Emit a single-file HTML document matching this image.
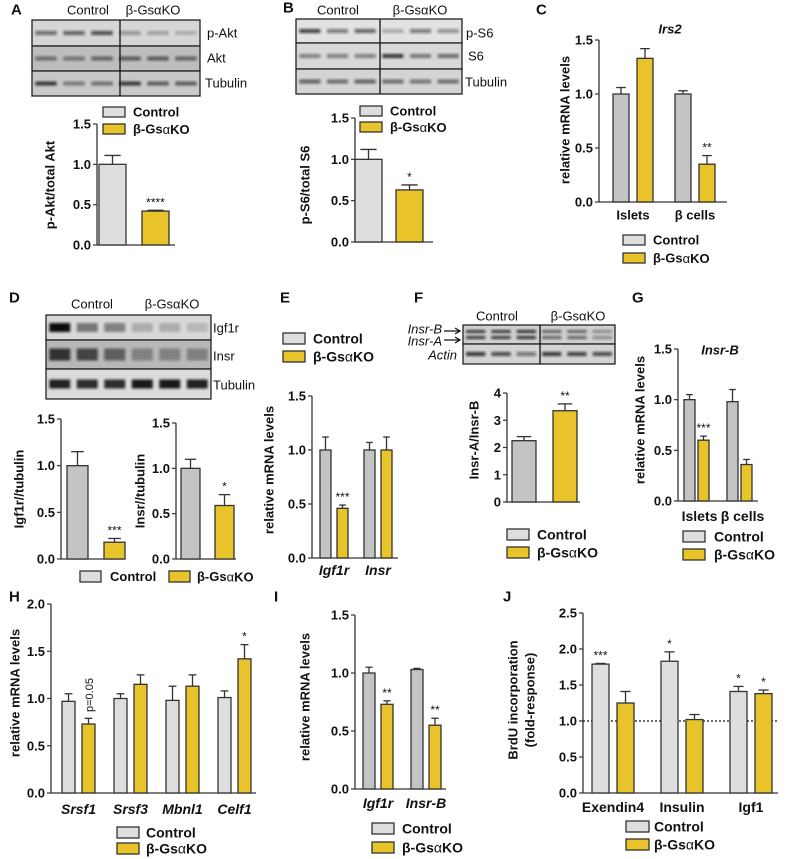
<!DOCTYPE html>
<html><head><meta charset="utf-8"><style>
html,body{margin:0;padding:0;background:#fff}
svg{display:block;font-family:"Liberation Sans",Arial,sans-serif}
</style></head><body>
<svg id="fig" width="789" height="859" viewBox="0 0 789 859" xmlns="http://www.w3.org/2000/svg">
<defs>
<filter id="bl" x="-20%" y="-50%" width="140%" height="200%"><feGaussianBlur stdDeviation="1.3"/></filter>
</defs>
</svg>
<script>
// ---- data arrays ----
const aCats=['Control','KO']; const aCtrl=[1.0]; const aCtrlErr=[0.11]; const aKO=[0.42]; const aKOErr=[0.01]; const aSig=['****']; const aTicks=[0,0.5,1.0,1.5]; const aTickLabels=['0.0','0.5','1.0','1.5'];
const bCtrl=[1.0]; const bCtrlErr=[0.12]; const bKO=[0.63]; const bKOErr=[0.06]; const bSig=['*']; const bTicks=[0,0.5,1.0,1.5]; const bTickLabels=['0.0','0.5','1.0','1.5'];
const cCats=['Islets','β cells']; const cCtrl=[1.0,1.0]; const cCtrlErr=[0.06,0.03]; const cKO=[1.33,0.35]; const cKOErr=[0.09,0.08]; const cSig=['','**']; const cTicks=[0,0.5,1.0,1.5]; const cTickLabels=['0.0','0.5','1.0','1.5'];
const d1Ctrl=[1.0]; const d1CtrlErr=[0.15]; const d1KO=[0.18]; const d1KOErr=[0.04]; const d1Sig=['***']; const d1Ticks=[0,0.5,1.0,1.5]; const d1TickLabels=['0.0','0.5','1.0','1.5'];
const d2Ctrl=[1.0]; const d2CtrlErr=[0.1]; const d2KO=[0.59]; const d2KOErr=[0.12]; const d2Sig=['*']; const d2Ticks=[0,0.5,1.0,1.5]; const d2TickLabels=['0.0','0.5','1.0','1.5'];
const eCats=['Igf1r','Insr']; const eCtrl=[1.0,1.0]; const eCtrlErr=[0.12,0.07]; const eKO=[0.46,1.0]; const eKOErr=[0.03,0.12]; const eSig=['***','']; const eTicks=[0,0.5,1.0,1.5]; const eTickLabels=['0.0','0.5','1.0','1.5'];
const fCtrl=[2.25]; const fCtrlErr=[0.15]; const fKO=[3.35]; const fKOErr=[0.25]; const fSig=['**']; const fTicks=[0,1,2,3,4]; const fTickLabels=['0','1','2','3','4'];
const gCats=['Islets','β cells']; const gCtrl=[1.0,0.98]; const gCtrlErr=[0.05,0.12]; const gKO=[0.6,0.36]; const gKOErr=[0.04,0.05]; const gSig=['***','']; const gTicks=[0,0.5,1.0,1.5]; const gTickLabels=['0.0','0.5','1.0','1.5'];
const hCats=['Srsf1','Srsf3','Mbnl1','Celf1']; const hCtrl=[0.97,1.0,0.98,1.01]; const hCtrlErr=[0.08,0.05,0.15,0.07]; const hKO=[0.73,1.15,1.13,1.42]; const hKOErr=[0.06,0.1,0.12,0.15]; const hSig=['','','','*']; const hTicks=[0,0.5,1.0,1.5,2.0]; const hTickLabels=['0.0','0.5','1.0','1.5','2.0'];
const iCats=['Igf1r','Insr-B']; const iCtrl=[1.0,1.03]; const iCtrlErr=[0.05,0.01]; const iKO=[0.73,0.55]; const iKOErr=[0.03,0.06]; const iSig=['**','**']; const iTicks=[0,0.5,1.0,1.5]; const iTickLabels=['0.0','0.5','1.0','1.5'];
const jCats=['Exendin4','Insulin','Igf1']; const jCtrl=[1.79,1.83,1.41]; const jCtrlErr=[0.01,0.13,0.07]; const jKO=[1.25,1.02,1.38]; const jKOErr=[0.16,0.07,0.05]; const jSigCtrl=['***','*','*']; const jSigKO=['','','*']; const jTicks=[0,0.5,1.0,1.5,2.0,2.5]; const jTickLabels=['0.0','0.5','1.0','1.5','2.0','2.5']; const jRef=[1.0];

const NS='http://www.w3.org/2000/svg';
const svg=document.getElementById('fig');
function mk(tag,attrs,parent,txt){const e=document.createElementNS(NS,tag);for(const k in attrs)e.setAttribute(k,attrs[k]);if(txt!==undefined)e.textContent=txt;(parent||svg).appendChild(e);return e;}
const YEL='#e8c42a', LG='#dedede', DG='#c4c4c4', ST='#333';

function txt(x,y,s,opt,parent,name){opt=opt||{};const t=mk('text',{x:x,y:y,'font-size':opt.size||12,'font-weight':opt.w||'bold','text-anchor':opt.a||'start','dominant-baseline':'central',fill:opt.fill||'#111','font-style':opt.it?'italic':'normal'},parent,s);if(opt.rot!==undefined)t.setAttribute('transform','rotate('+opt.rot+' '+x+' '+y+')');


return t;}

function chart(c){
  const g=mk('g',{});
  
  
  const maxV=c.ticks[c.ticks.length-1];
  const y=v=>c.y0-(v/maxV)*(c.y0-c.yTop);
  const ya=mk('line',{x1:c.x0,y1:c.yTop,x2:c.x0,y2:c.y0,stroke:ST,'stroke-width':1.3},g);
  
  
  const xa=mk('line',{x1:c.x0,y1:c.y0,x2:c.xEnd,y2:c.y0,stroke:ST,'stroke-width':1.3},g);
  
  
  c.ticks.forEach((t,i)=>{
    const tk=mk('line',{x1:c.x0-4,y1:y(t),x2:c.x0,y2:y(t),stroke:ST,'stroke-width':1.2},g);
    
    
    txt(c.x0-6,y(t),c.tickLabels[i],{a:'end',size:c.fs||13},g,'y-tick-label');
  });
  if(c.ref){c.ref.forEach(r=>{const l=mk('line',{x1:c.x0,y1:y(r),x2:c.xEnd,y2:y(r),stroke:'#111','stroke-width':1.3,'stroke-dasharray':'2,2'},g);
    
    });}
  const series=[[c.ctrl,c.ctrlErr,c.ctrlFill,0,'control'],[c.ko,c.koErr,YEL,c.off,'ko']];
  c.ctrl.forEach((_,gi)=>{
    series.forEach(s=>{
      const v=s[0][gi], e=s[1][gi];
      const bx=c.x0+c.pad+gi*c.step+s[3];
      const cx=bx+c.bw/2;
      const el=mk('line',{x1:cx,y1:y(v),x2:cx,y2:y(v+e),stroke:ST,'stroke-width':1.3},g);
      
      
      const cap=mk('line',{x1:cx-c.bw*0.3,y1:y(v+e),x2:cx+c.bw*0.3,y2:y(v+e),stroke:ST,'stroke-width':1.3},g);
      
      
      const r=mk('rect',{x:bx,y:y(v),width:c.bw,height:c.y0-y(v),fill:s[2],stroke:ST,'stroke-width':1.3},g);
      
      
    });
    if(c.sig&&c.sig[gi]){const cx=c.x0+c.pad+gi*c.step+c.off+c.bw/2;txt(cx,y(c.ko[gi]+c.koErr[gi])-8,c.sig[gi],{a:'middle',w:'normal',size:12},g,'significance');}
    if(c.sigC&&c.sigC[gi]){const cx=c.x0+c.pad+gi*c.step+c.bw/2;txt(cx,y(c.ctrl[gi]+c.ctrlErr[gi])-8,c.sigC[gi],{a:'middle',w:'normal',size:12},g,'significance');}
    if(c.cats){const cx=c.x0+c.pad+gi*c.step+(c.off+c.bw)/2;txt(cx+(c.catDx||0),c.catY,c.cats[gi],{a:'middle',size:c.catFs||14,it:c.catIt},g,'x-category-label');}
  });
  if(c.ytitle){ if(Array.isArray(c.ytitle)){c.ytitle.forEach((t,k)=>txt(c.ytX+k*17,c.ytY,t,{a:'middle',size:c.ytFs||14,rot:-90},g,'y-axis-title'));} else txt(c.ytX,c.ytY,c.ytitle,{a:'middle',size:c.ytFs||14,rot:-90},g,'y-axis-title');}
  return g;
}
function legend(x,y1,y2,w,h,ctrlFill,tx,fs,name,horiz){
  const g=mk('g',{});
  
  
  const r1=mk('rect',{x:x,y:y1,width:w,height:h,fill:ctrlFill,stroke:ST,'stroke-width':1.3},g);
  
  
  txt(tx,y1+h/2,'Control',{size:fs},g,'legend-entry-control');
  const r2=mk('rect',{x:horiz?horiz[0]:x,y:y2,width:w,height:h,fill:YEL,stroke:ST,'stroke-width':1.3},g);
  
  
  const t=txt(horiz?horiz[1]:tx,y2+h/2,'β-Gs',{size:fs},g,'legend-entry-ko');
  mk('tspan',{'font-weight':'normal'},t,'α');
  mk('tspan',{},t,'KO');
}
function blot(x,y,w,rows,divX,lanes,name){
  const g=mk('g',{});
  
  
  let yy=y;
  rows.forEach(r=>{
    mk('rect',{x:x,y:yy,width:w,height:r.h,fill:r.bg||'#cfcfcf'},g);
    r.bands.forEach((b,i)=>{
      const lx=x+(i+0.5)*w/lanes;
      const bh=r.bh||4;
      (r.offs||[0]).forEach(o=>mk('rect',{x:lx-w/lanes*0.38,y:yy+r.h/2-bh/2+o,width:w/lanes*0.76,height:bh,fill:'#111','fill-opacity':b,filter:'url(#bl)'},g));
    });
    mk('rect',{x:x,y:yy,width:w,height:r.h,fill:'none',stroke:'#222','stroke-width':1.3},g);
    yy+=r.h;
  });
  if(divX)mk('line',{x1:divX,y1:y,x2:divX,y2:yy,stroke:'#111','stroke-width':1.3},g);
  return g;
}
function panelLabel(x,y,s){txt(x,y,s,{size:15},null,'panel-label-'+s.toLowerCase());}

// ---------- Panel A ----------
panelLabel(11,10,'A');
txt(88,10,'Control',{w:'normal',a:'middle',size:13},null,'blot-header-control');
txt(153,10,'β-GsαKO',{w:'normal',a:'middle',size:13},null,'blot-header-ko');
blot(32,20,168,[{h:26,bands:[0.55,0.6,0.7,0.35,0.25,0.2],bg:'#d6d6d6'},{h:25,bands:[0.5,0.45,0.55,0.6,0.6,0.55],bg:'#bdbdbd'},{h:25,bands:[0.8,0.45,0.5,0.8,0.6,0.6],bg:'#c8c8c8'}],120,6,'blot-a');
txt(207,33,'p-Akt',{w:'normal',size:13},null,'blot-label');
txt(207,58,'Akt',{w:'normal',size:13},null,'blot-label');
txt(205,83,'Tubulin',{w:'normal',size:13},null,'blot-label');
legend(103,107,124,22,10,LG,133,13,'legend-a');
chart({name:'chart-a',x0:97,yTop:124,y0:245,xEnd:175,pad:2,step:0,bw:27,off:43,ctrl:aCtrl,ctrlErr:aCtrlErr,ko:aKO,koErr:aKOErr,sig:aSig,ticks:aTicks,tickLabels:aTickLabels,ctrlFill:LG,ytitle:'p-Akt/total Akt',ytX:50,ytY:185,ytFs:13});

// ---------- Panel B ----------
panelLabel(283,8,'B');
txt(338,10,'Control',{w:'normal',a:'middle',size:13},null,'blot-header-control');
txt(420,10,'β-GsαKO',{w:'normal',a:'middle',size:13},null,'blot-header-ko');
blot(296,19,166,[{h:24,bands:[0.75,0.5,0.6,0.25,0.5,0.4],bg:'#e2e2e2'},{h:26,bands:[0.45,0.45,0.45,0.8,0.5,0.55],bg:'#d8d8d8'},{h:25,bands:[0.6,0.55,0.6,0.55,0.5,0.55],bg:'#d4d4d4'}],380,6,'blot-b');
txt(466,33,'p-S6',{w:'normal',size:13},null,'blot-label');
txt(468,56,'S6',{w:'normal',size:13},null,'blot-label');
txt(465,82,'Tubulin',{w:'normal',size:13},null,'blot-label');
legend(360,106,122,22,10,LG,390,13,'legend-b');
chart({name:'chart-b',x0:355,yTop:118,y0:242,xEnd:433,pad:0,step:0,bw:27,off:41,ctrl:bCtrl,ctrlErr:bCtrlErr,ko:bKO,koErr:bKOErr,sig:bSig,ticks:bTicks,tickLabels:bTickLabels,ctrlFill:LG,ytitle:'p-S6/total S6',ytX:305,ytY:185,ytFs:13});

// ---------- Panel C ----------
panelLabel(536,10,'C');
txt(670,29,'Irs2',{a:'middle',size:13,it:true},null,'chart-title-c');
chart({name:'chart-c',x0:599,yTop:40,y0:202,xEnd:727,pad:14,step:62,bw:16,off:24,ctrl:cCtrl,ctrlErr:cCtrlErr,ko:cKO,koErr:cKOErr,sig:cSig,ticks:cTicks,tickLabels:cTickLabels,ctrlFill:DG,cats:cCats,catY:215,catFs:13,ytitle:'relative mRNA levels',ytX:565,ytY:120,ytFs:13});
legend(623,235,253,22,10,LG,653,13,'legend-c');

// ---------- Panel D ----------
panelLabel(9,298,'D');
txt(92,304,'Control',{w:'normal',a:'middle',size:13},null,'blot-header-control');
txt(172,304,'β-GsαKO',{w:'normal',a:'middle',size:13},null,'blot-header-ko');
blot(46,315,165,[{h:25,bands:[1,0.5,0.45,0.2,0.2,0.15],bg:'#d8d8d8',bh:9},{h:29,bands:[0.8,0.7,0.55,0.35,0.35,0.3],bg:'#b8b8b8',bh:12},{h:30,bands:[0.9,0.85,0.85,0.95,0.95,0.9],bg:'#dcdcdc',bh:9}],null,6,'blot-d');
txt(213,328,'Igf1r',{w:'normal',size:13},null,'blot-label');
txt(213,356,'Insr',{w:'normal',size:13},null,'blot-label');
txt(213,385,'Tubulin',{w:'normal',size:13},null,'blot-label');
chart({name:'chart-d-igf1r',x0:61,yTop:419,y0:559,xEnd:124,pad:6,step:0,bw:21,off:37,ctrl:d1Ctrl,ctrlErr:d1CtrlErr,ko:d1KO,koErr:d1KOErr,sig:d1Sig,ticks:d1Ticks,tickLabels:d1TickLabels,ctrlFill:DG,ytitle:'Igf1r//tubulin',ytX:19,ytY:489,ytFs:13});
chart({name:'chart-d-insr',x0:176,yTop:423,y0:559,xEnd:236,pad:5,step:0,bw:19,off:34,ctrl:d2Ctrl,ctrlErr:d2CtrlErr,ko:d2KO,koErr:d2KOErr,sig:d2Sig,ticks:d2Ticks,tickLabels:d2TickLabels,ctrlFill:DG,ytitle:'Insr//tubulin',ytX:140,ytY:491,ytFs:13});
legend(80,571,571,21,11,LG,110,13,'legend-d',[169,197]);

// ---------- Panel E ----------
panelLabel(280,298,'E');
legend(283,333,351,22,11,LG,313,14,'legend-e');
chart({name:'chart-e',x0:312,yTop:396,y0:558,xEnd:398,pad:8,step:44,bw:11,off:17,ctrl:eCtrl,ctrlErr:eCtrlErr,ko:eKO,koErr:eKOErr,sig:eSig,ticks:eTicks,tickLabels:eTickLabels,ctrlFill:DG,cats:eCats,catY:570,catIt:true,catFs:14,ytitle:'relative mRNA levels',ytX:269,ytY:470,ytFs:13});

// ---------- Panel F ----------
panelLabel(414,298,'F');
txt(497,316,'Control',{w:'normal',a:'middle',size:13},null,'blot-header-control');
txt(578,316,'β-GsαKO',{w:'normal',a:'middle',size:13},null,'blot-header-ko');
blot(463,325,152,[{h:19,bands:[0.8,0.8,0.85,0.6,0.6,0.4],bg:'#cfcfcf',bh:3,offs:[-3,3]},{h:20,bands:[0.8,0.7,0.5,0.8,0.75,0.7],bg:'#d4d4d4',bh:4}],540,6,'blot-f');
txt(442,329,'Insr-B',{w:'normal',a:'end',size:13,it:true},null,'blot-label');
txt(442,341,'Insr-A',{w:'normal',a:'end',size:13,it:true},null,'blot-label');
txt(457,355,'Actin',{w:'normal',a:'end',size:13,it:true},null,'blot-label');
mk('path',{d:'M444 331 H460 M455 328 L460 331 L455 334 M444 340 H460 M455 337 L460 340 L455 343',stroke:'#111','stroke-width':1.2,fill:'none'});
chart({name:'chart-f',x0:507,yTop:393,y0:502,xEnd:580,pad:5,step:0,bw:24,off:41,ctrl:fCtrl,ctrlErr:fCtrlErr,ko:fKO,koErr:fKOErr,sig:fSig,ticks:fTicks,tickLabels:fTickLabels,ctrlFill:DG,ytitle:'Insr-A/Insr-B',ytX:474,ytY:440,ytFs:13});
legend(507,529,547,22,11,LG,537,14,'legend-f');

// ---------- Panel G ----------
panelLabel(632,298,'G');
txt(720,350,'Insr-B',{a:'middle',size:13,it:true},null,'chart-title-g');
chart({name:'chart-g',x0:678,yTop:349,y0:501,xEnd:758,pad:6,step:43,bw:11,off:14,ctrl:gCtrl,ctrlErr:gCtrlErr,ko:gKO,koErr:gKOErr,sig:gSig,ticks:gTicks,tickLabels:gTickLabels,ctrlFill:DG,cats:gCats,catY:516,catFs:14,catDx:3,ytitle:'relative mRNA levels',ytX:640,ytY:420,ytFs:13});
legend(683,531,549,22,11,LG,714,14,'legend-g');

// ---------- Panel H ----------
panelLabel(9,597,'H');
chart({name:'chart-h',x0:51,yTop:604,y0:793,xEnd:256,pad:11,step:52,bw:13,off:20,ctrl:hCtrl,ctrlErr:hCtrlErr,ko:hKO,koErr:hKOErr,sig:hSig,ticks:hTicks,tickLabels:hTickLabels,ctrlFill:LG,cats:hCats,catY:809,catIt:true,catFs:14,ytitle:'relative mRNA levels',ytX:15,ytY:693,ytFs:13});
txt(90,695,'p=0.05',{w:'normal',a:'middle',size:11,rot:-90},null,'p-value-annotation');
legend(117,827,843,22,11,LG,146,14,'legend-h');

// ---------- Panel I ----------
panelLabel(274,597,'I');
chart({name:'chart-i',x0:355,yTop:615,y0:789,xEnd:446,pad:8,step:48,bw:12,off:18,ctrl:iCtrl,ctrlErr:iCtrlErr,ko:iKO,koErr:iKOErr,sig:iSig,ticks:iTicks,tickLabels:iTickLabels,ctrlFill:DG,cats:iCats,catY:803,catIt:true,catFs:14,ytitle:'relative mRNA levels',ytX:305,ytY:697,ytFs:13});
legend(372,823,842,22,11,LG,402,14,'legend-i');

// ---------- Panel J ----------
panelLabel(503,597,'J');
chart({name:'chart-j',x0:583,yTop:613,y0:793,xEnd:778,pad:9,step:69,bw:17,off:25,ctrl:jCtrl,ctrlErr:jCtrlErr,ko:jKO,koErr:jKOErr,sig:jSigKO,sigC:jSigCtrl,ticks:jTicks,tickLabels:jTickLabels,ctrlFill:LG,ref:jRef,cats:jCats,catY:807,catFs:14,ytitle:['BrdU incorporation','(fold-response)'],ytX:513,ytY:700,ytFs:13});
legend(626,821,839,23,11,LG,654,14,'legend-j');
</script>
</body></html>
